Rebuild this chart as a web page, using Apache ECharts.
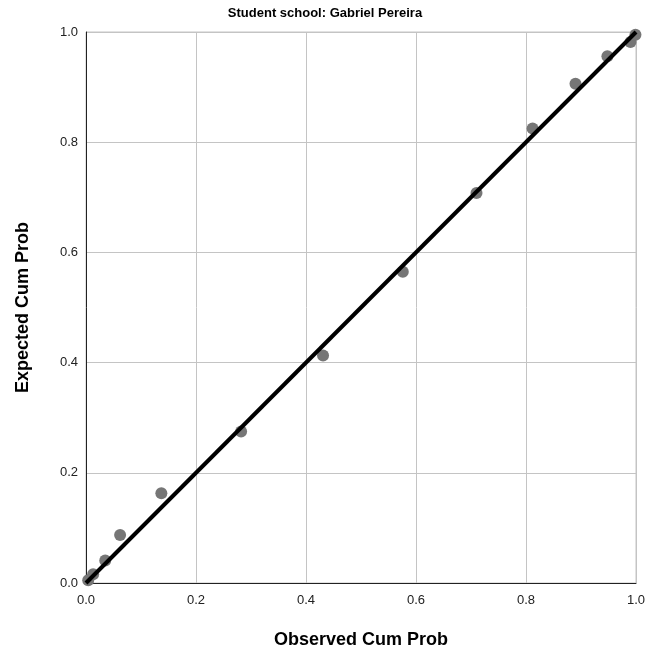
<!DOCTYPE html>
<html><head><meta charset="utf-8">
<script src="https://cdn.jsdelivr.net/npm/echarts@6/dist/echarts.min.js"></script>
<style>html,body{margin:0;padding:0;background:#fff}#c{width:651px;height:660px}</style>
</head><body><div id="c"></div>
<script>
const observed = [0.004, 0.013, 0.035, 0.062, 0.137, 0.282, 0.431, 0.576, 0.710, 0.812, 0.890, 0.948, 0.990, 0.999];
const expected = [0.005, 0.016, 0.041, 0.087, 0.163, 0.275, 0.413, 0.565, 0.708, 0.825, 0.906, 0.956, 0.982, 0.995];
const refLine = [[0, 0], [1, 1]];
const ticks = ['0.0', '0.2', '0.4', '0.6', '0.8', '1.0'];
const font = 'Liberation Sans, Arial, sans-serif';
const chart = echarts.init(document.getElementById('c'));
const axisCommon = {
  type: 'value', min: 0, max: 1, interval: 0.2,
  nameLocation: 'middle',
  nameTextStyle: {fontFamily: font, fontSize: 18, fontWeight: 'bold', color: '#000'},
  axisLine: {show: true, lineStyle: {color: '#222', width: 1}},
  axisTick: {show: false},
  axisLabel: {fontFamily: font, fontSize: 13, color: '#222', formatter: v => ticks[Math.round(v * 5)]},
  splitLine: {show: true, lineStyle: {color: '#c4c4c4', width: 1}}
};
chart.setOption({
  animation: false,
  title: {text: 'Student school: Gabriel Pereira', left: 320, top: 2, textAlign: 'center',
    textStyle: {fontFamily: font, fontSize: 13, fontWeight: 'bold', color: '#000'}},
  grid: {left: 86, right: 15, top: 32, bottom: 77, show: true, borderColor: '#c4c4c4', borderWidth: 1},
  xAxis: Object.assign({}, axisCommon, {name: 'Observed Cum Prob', nameGap: 48, axisLabel: Object.assign({}, axisCommon.axisLabel, {margin: 11})}),
  yAxis: Object.assign({}, axisCommon, {name: 'Expected Cum Prob', nameGap: 54, axisLabel: Object.assign({}, axisCommon.axisLabel, {margin: 8})}),
  series: [
    {type: 'scatter', data: observed.map((x, i) => [x, expected[i]]), symbolSize: 12,
      itemStyle: {color: '#767676', opacity: 1}, z: 2},
    {type: 'line', data: refLine, symbol: 'none', lineStyle: {color: '#000', width: 4}, z: 3}
  ]
});
</script></body></html>
